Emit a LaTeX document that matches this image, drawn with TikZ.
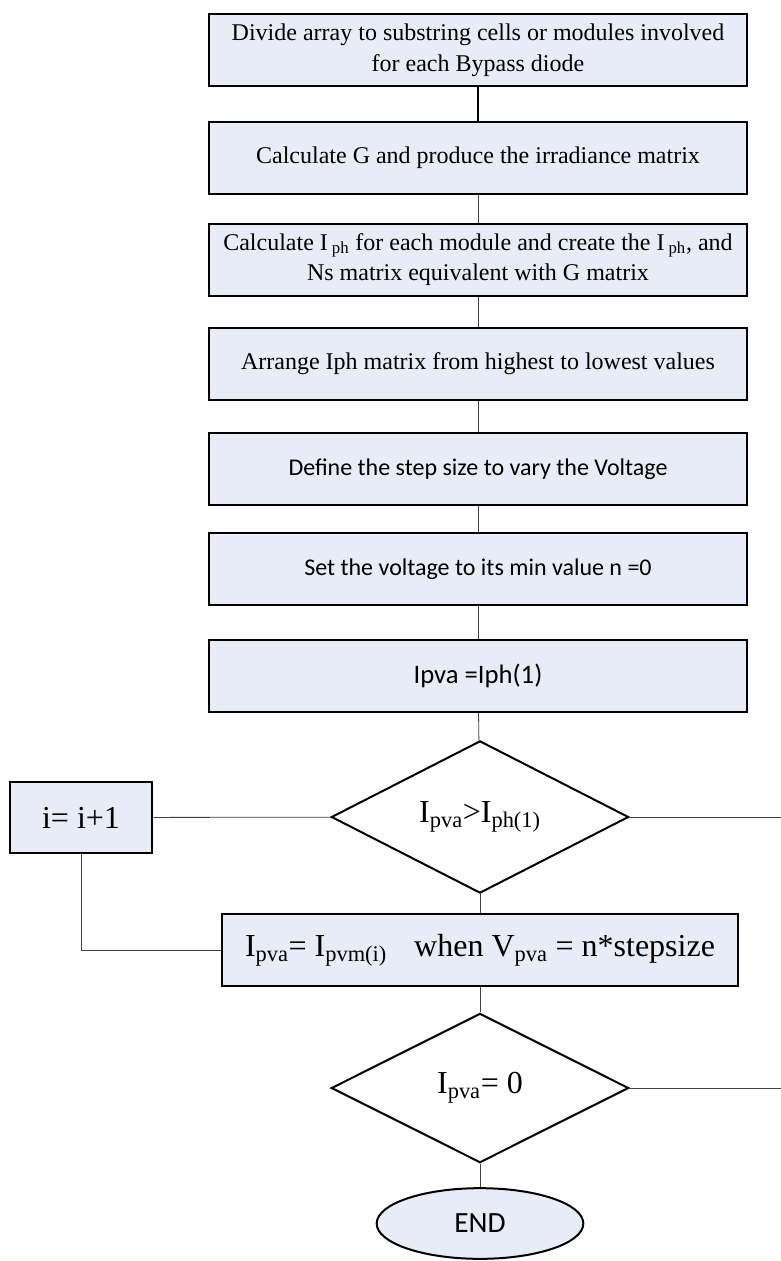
\documentclass[tikz,border=0pt]{standalone}
\usepackage{fontspec}
\setmainfont{Liberation Serif}
\newfontfamily\calibri{Carlito}
\usetikzlibrary{shapes.geometric}
\definecolor{boxfill}{HTML}{E7ECF6}
\tikzset{
  stepbox/.style={draw, line width=1.5pt, fill=boxfill, minimum width=403.5pt,
    minimum height=54pt, inner sep=2pt, align=center},
  decide/.style={draw, line width=1.5pt, diamond, minimum width=223pt,
    minimum height=112pt, inner sep=0pt},
  link/.style={draw=black!75, line width=0.6pt}
}
\begin{document}
\begin{tikzpicture}[x=0.75pt, y=-0.75pt]
  \useasboundingbox (0,0) rectangle (781,1261);
  \node[stepbox, font=\fontsize{18}{23}\selectfont] (b1) at (478, 50)
    {Divide array to substring cells or modules involved\\for each Bypass diode};
  \node[stepbox, font=\fontsize{18}{23}\selectfont] (b2) at (478, 157.5)
    {Calculate G and produce the irradiance matrix};
  \node[stepbox, font=\fontsize{18}{23}\selectfont] (b3) at (478, 259.5)
    {Calculate I\,\textsubscript{ph} for each module and create the I\,\textsubscript{ph}, and\\Ns matrix equivalent with G matrix};
  \node[stepbox, font=\fontsize{18}{23}\selectfont] (b4) at (478, 363.5)
    {Arrange Iph matrix from highest to lowest values};
  \node[stepbox, font=\calibri\fontsize{18}{23}\selectfont] (b5) at (478, 469)
    {Define the step size to vary the Voltage};
  \node[stepbox, font=\calibri\fontsize{18}{23}\selectfont] (b6) at (478, 569)
    {Set the voltage to its min value n =0};
  \node[stepbox, font=\calibri\fontsize{20}{24}\selectfont] (b7) at (478, 676)
    {Ipva =Iph(1)};
  \node[decide, font=\fontsize{24}{28}\selectfont] (d1) at (480, 817)
    {I\textsubscript{pva}>I\textsubscript{ph(1)}};
  \node[stepbox, minimum width=107pt, minimum height=53pt, font=\fontsize{24}{28}\selectfont] (inc) at (81, 817.5)
    {i= i+1};
  \node[stepbox, minimum width=387pt, font=\fontsize{24}{28}\selectfont] (b8) at (480, 950)
    {I\textsubscript{pva}= I\textsubscript{pvm(i)}\hspace{0.6em} when V\textsubscript{pva} = n*stepsize};
  \node[decide, font=\fontsize{24}{28}\selectfont] (d2) at (480, 1088)
    {I\textsubscript{pva}= 0};
  \node[draw, ellipse, line width=1.5pt, fill=boxfill, minimum width=155pt, minimum height=53pt,
    font=\calibri\fontsize{22}{26}\selectfont] (stop) at (480, 1223.5) {END};
  \coordinate (r1) at (781, 817);
  \coordinate (r2) at (781, 1088);
  \draw[link, line width=1.2pt, black] (b1) -- (b2);
  \draw[link] (b2) -- (b3);
  \draw[link] (b3) -- (b4);
  \draw[link] (b4) -- (b5);
  \draw[link] (b5) -- (b6);
  \draw[link] (b6) -- (b7);
  \draw[link] (b7) -- (d1);
  \draw[link] (d1) -- (b8);
  \draw[link] (d1) -- (inc);
  \draw[link] (d1) -- (r1);
  \draw[link] (inc) |- (b8);
  \draw[link] (b8) -- (d2);
  \draw[link] (d2) -- (r2);
  \draw[link] (d2) -- (stop);
\end{tikzpicture}
\end{document}
